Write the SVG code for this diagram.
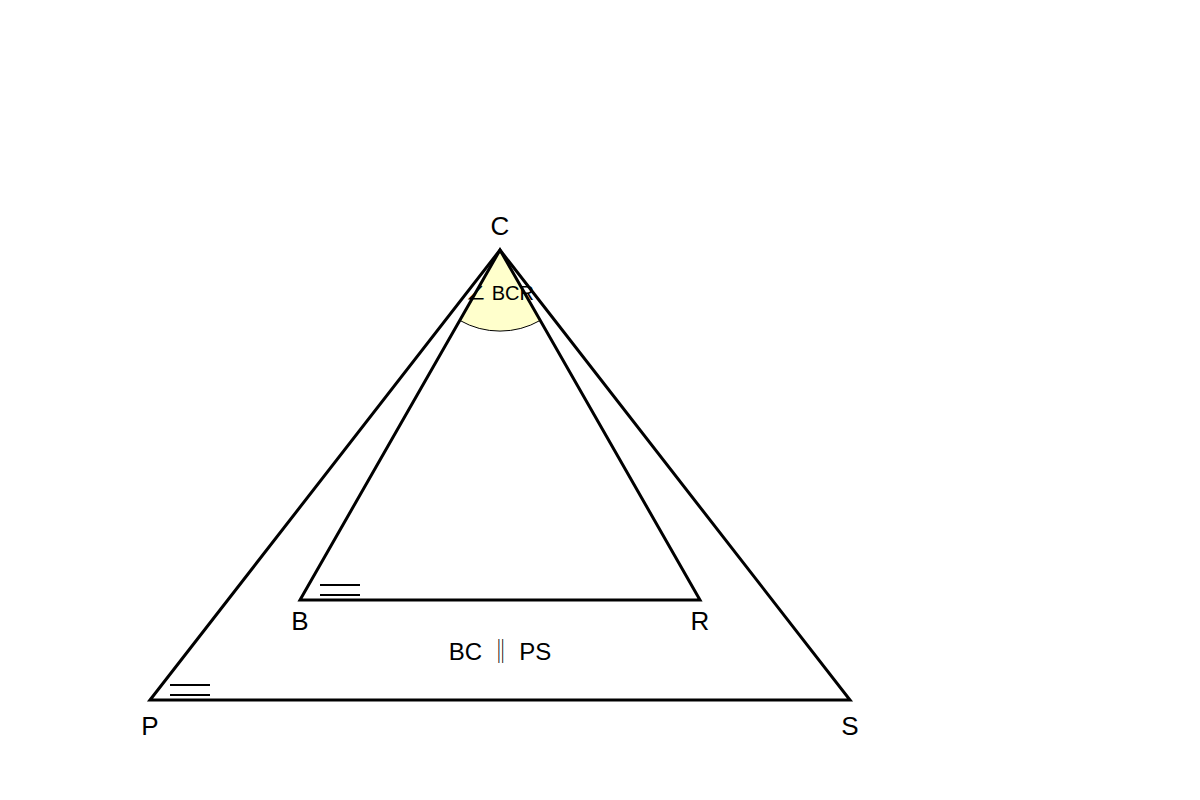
<svg xmlns="http://www.w3.org/2000/svg" width="1200" height="800" viewBox="0 0 1200 800">
<style>
.edge{fill:none;stroke:#000;stroke-width:3;stroke-linejoin:miter}
.tick{stroke:#000;stroke-width:2}
.lbl{font-family:"Liberation Sans",Arial,sans-serif;font-size:26px;fill:#000;text-anchor:middle}
.ang{font-family:"Liberation Sans",Arial,sans-serif;font-size:20px;fill:#000;text-anchor:middle}
.sym{font-family:"Noto Sans CJK JP","Noto Sans CJK KR",sans-serif}
</style>
<rect width="1200" height="800" fill="#fff"/>
<g id="angle-BCR">
<path d="M500,250 L459.8,320.4 A81,81 0 0 0 540.2,320.4 Z" fill="#ffffcc" stroke="#000" stroke-width="1"/>
<text class="ang" x="500" y="300"><tspan class="sym">∠</tspan> BCR</text>
</g>
<g id="connectors">
<polygon id="triangle-PCS" class="edge" points="150,700 500,250 850,700"/>
<polygon id="triangle-BCR" class="edge" points="300,600 500,250 700,600"/>
</g>
<g id="ticks">
<line class="tick" x1="320" y1="585" x2="360" y2="585"/>
<line class="tick" x1="320" y1="595" x2="360" y2="595"/>
<line class="tick" x1="170" y1="685" x2="210" y2="685"/>
<line class="tick" x1="170" y1="695" x2="210" y2="695"/>
</g>
<g id="node-C"><text class="lbl" x="500" y="235">C</text></g>
<g id="node-B"><text class="lbl" x="300" y="630">B</text></g>
<g id="node-R"><text class="lbl" x="700" y="630">R</text></g>
<g id="node-P"><text class="lbl" x="150" y="735">P</text></g>
<g id="node-S"><text class="lbl" x="850" y="735">S</text></g>
<g id="note"><text class="lbl" x="500" y="660" style="font-size:24px">BC <tspan class="sym">‖</tspan> PS</text></g>
</svg>
